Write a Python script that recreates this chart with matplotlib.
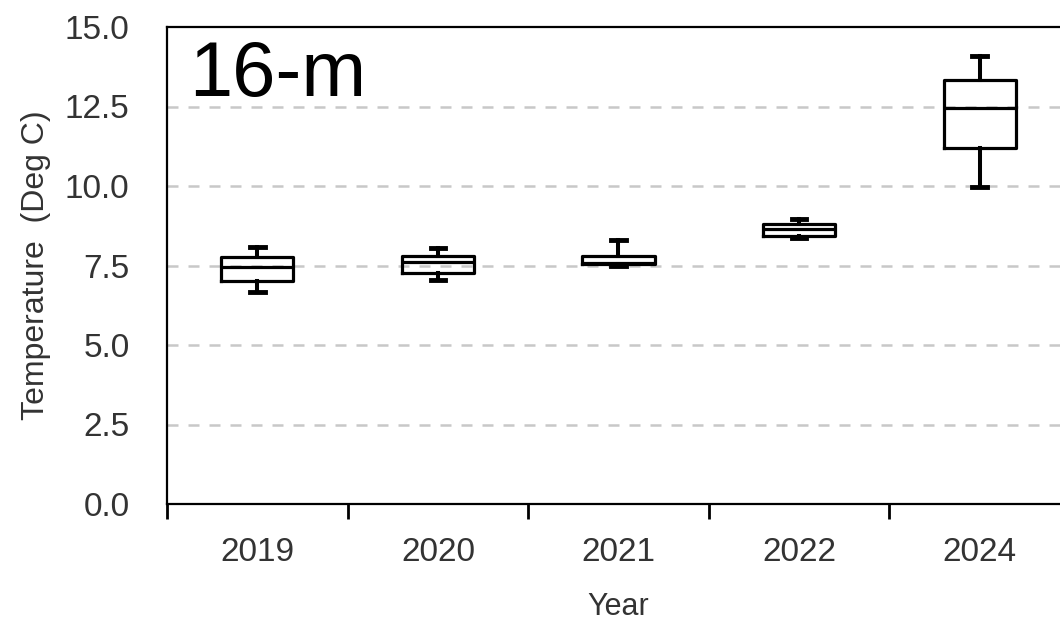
import matplotlib.pyplot as plt

# box statistics (deg C)
years = ['2019', '2020', '2021', '2022', '2024']
whisker_low = [6.67, 7.05, 7.48, 8.36, 9.96]
q1 = [7.02, 7.27, 7.55, 8.42, 11.18]
median = [7.45, 7.61, 7.57, 8.64, 12.45]
q3 = [7.77, 7.80, 7.80, 8.80, 13.34]
whisker_high = [8.08, 8.05, 8.30, 8.96, 14.09]

plt.rcParams['font.family'] = ['Liberation Sans', 'DejaVu Sans']

fig = plt.figure(figsize=(10.6, 6.23), dpi=100)
ax = fig.add_axes([167 / 1060, 119 / 623, 903 / 1060, 477 / 623])

stats = []
for i, y in enumerate(years):
    stats.append({'label': y, 'whislo': whisker_low[i], 'q1': q1[i], 'med': median[i],
                  'q3': q3[i], 'whishi': whisker_high[i], 'fliers': []})

lw = 2.3
ax.bxp(stats, positions=range(len(years)), widths=0.4, capwidths=0.08,
       showfliers=False, manage_ticks=False,
       boxprops=dict(color='black', linewidth=lw),
       medianprops=dict(color='black', linewidth=lw),
       whiskerprops=dict(color='black', linewidth=lw + 0.6),
       capprops=dict(color='black', linewidth=lw + 1.2))

ax.set_xlim(-0.5, len(years) - 0.5)
ax.set_ylim(0, 15)
ax.set_yticks([0, 2.5, 5, 7.5, 10, 12.5, 15])
ax.set_yticklabels(['0.0', '2.5', '5.0', '7.5', '10.0', '12.5', '15.0'])

# tick marks between categories, labels at category centres
ax.set_xticks([i - 0.5 for i in range(len(years) + 1)])
ax.set_xticklabels([])
ax.set_xticks(range(len(years)), minor=True)
ax.set_xticklabels(years, minor=True)
ax.tick_params(axis='x', which='major', length=11, width=2, direction='out', color='black')
ax.tick_params(axis='x', which='minor', length=0, pad=24, labelsize=24, labelcolor='#333333')
ax.tick_params(axis='y', length=0, pad=27, labelsize=24, labelcolor='#333333')

for y in [2.5, 5, 7.5, 10, 12.5]:
    ax.axhline(y, color='#c8c8c8', linewidth=1.8, dashes=(4.4, 4), zorder=0)

for side in ['left', 'bottom', 'top', 'right']:
    ax.spines[side].set_linewidth(1.6)
    ax.spines[side].set_color('black')

ax.set_xlabel('Year', fontsize=22, color='#333333', labelpad=17)
ax.set_ylabel('Temperature  (Deg C)', fontsize=23, color='#333333', labelpad=10)

ax.text(0.025, 0.975, '16-m', transform=ax.transAxes, fontsize=56, ha='left', va='top')

fig.savefig('out.png', dpi=100)
